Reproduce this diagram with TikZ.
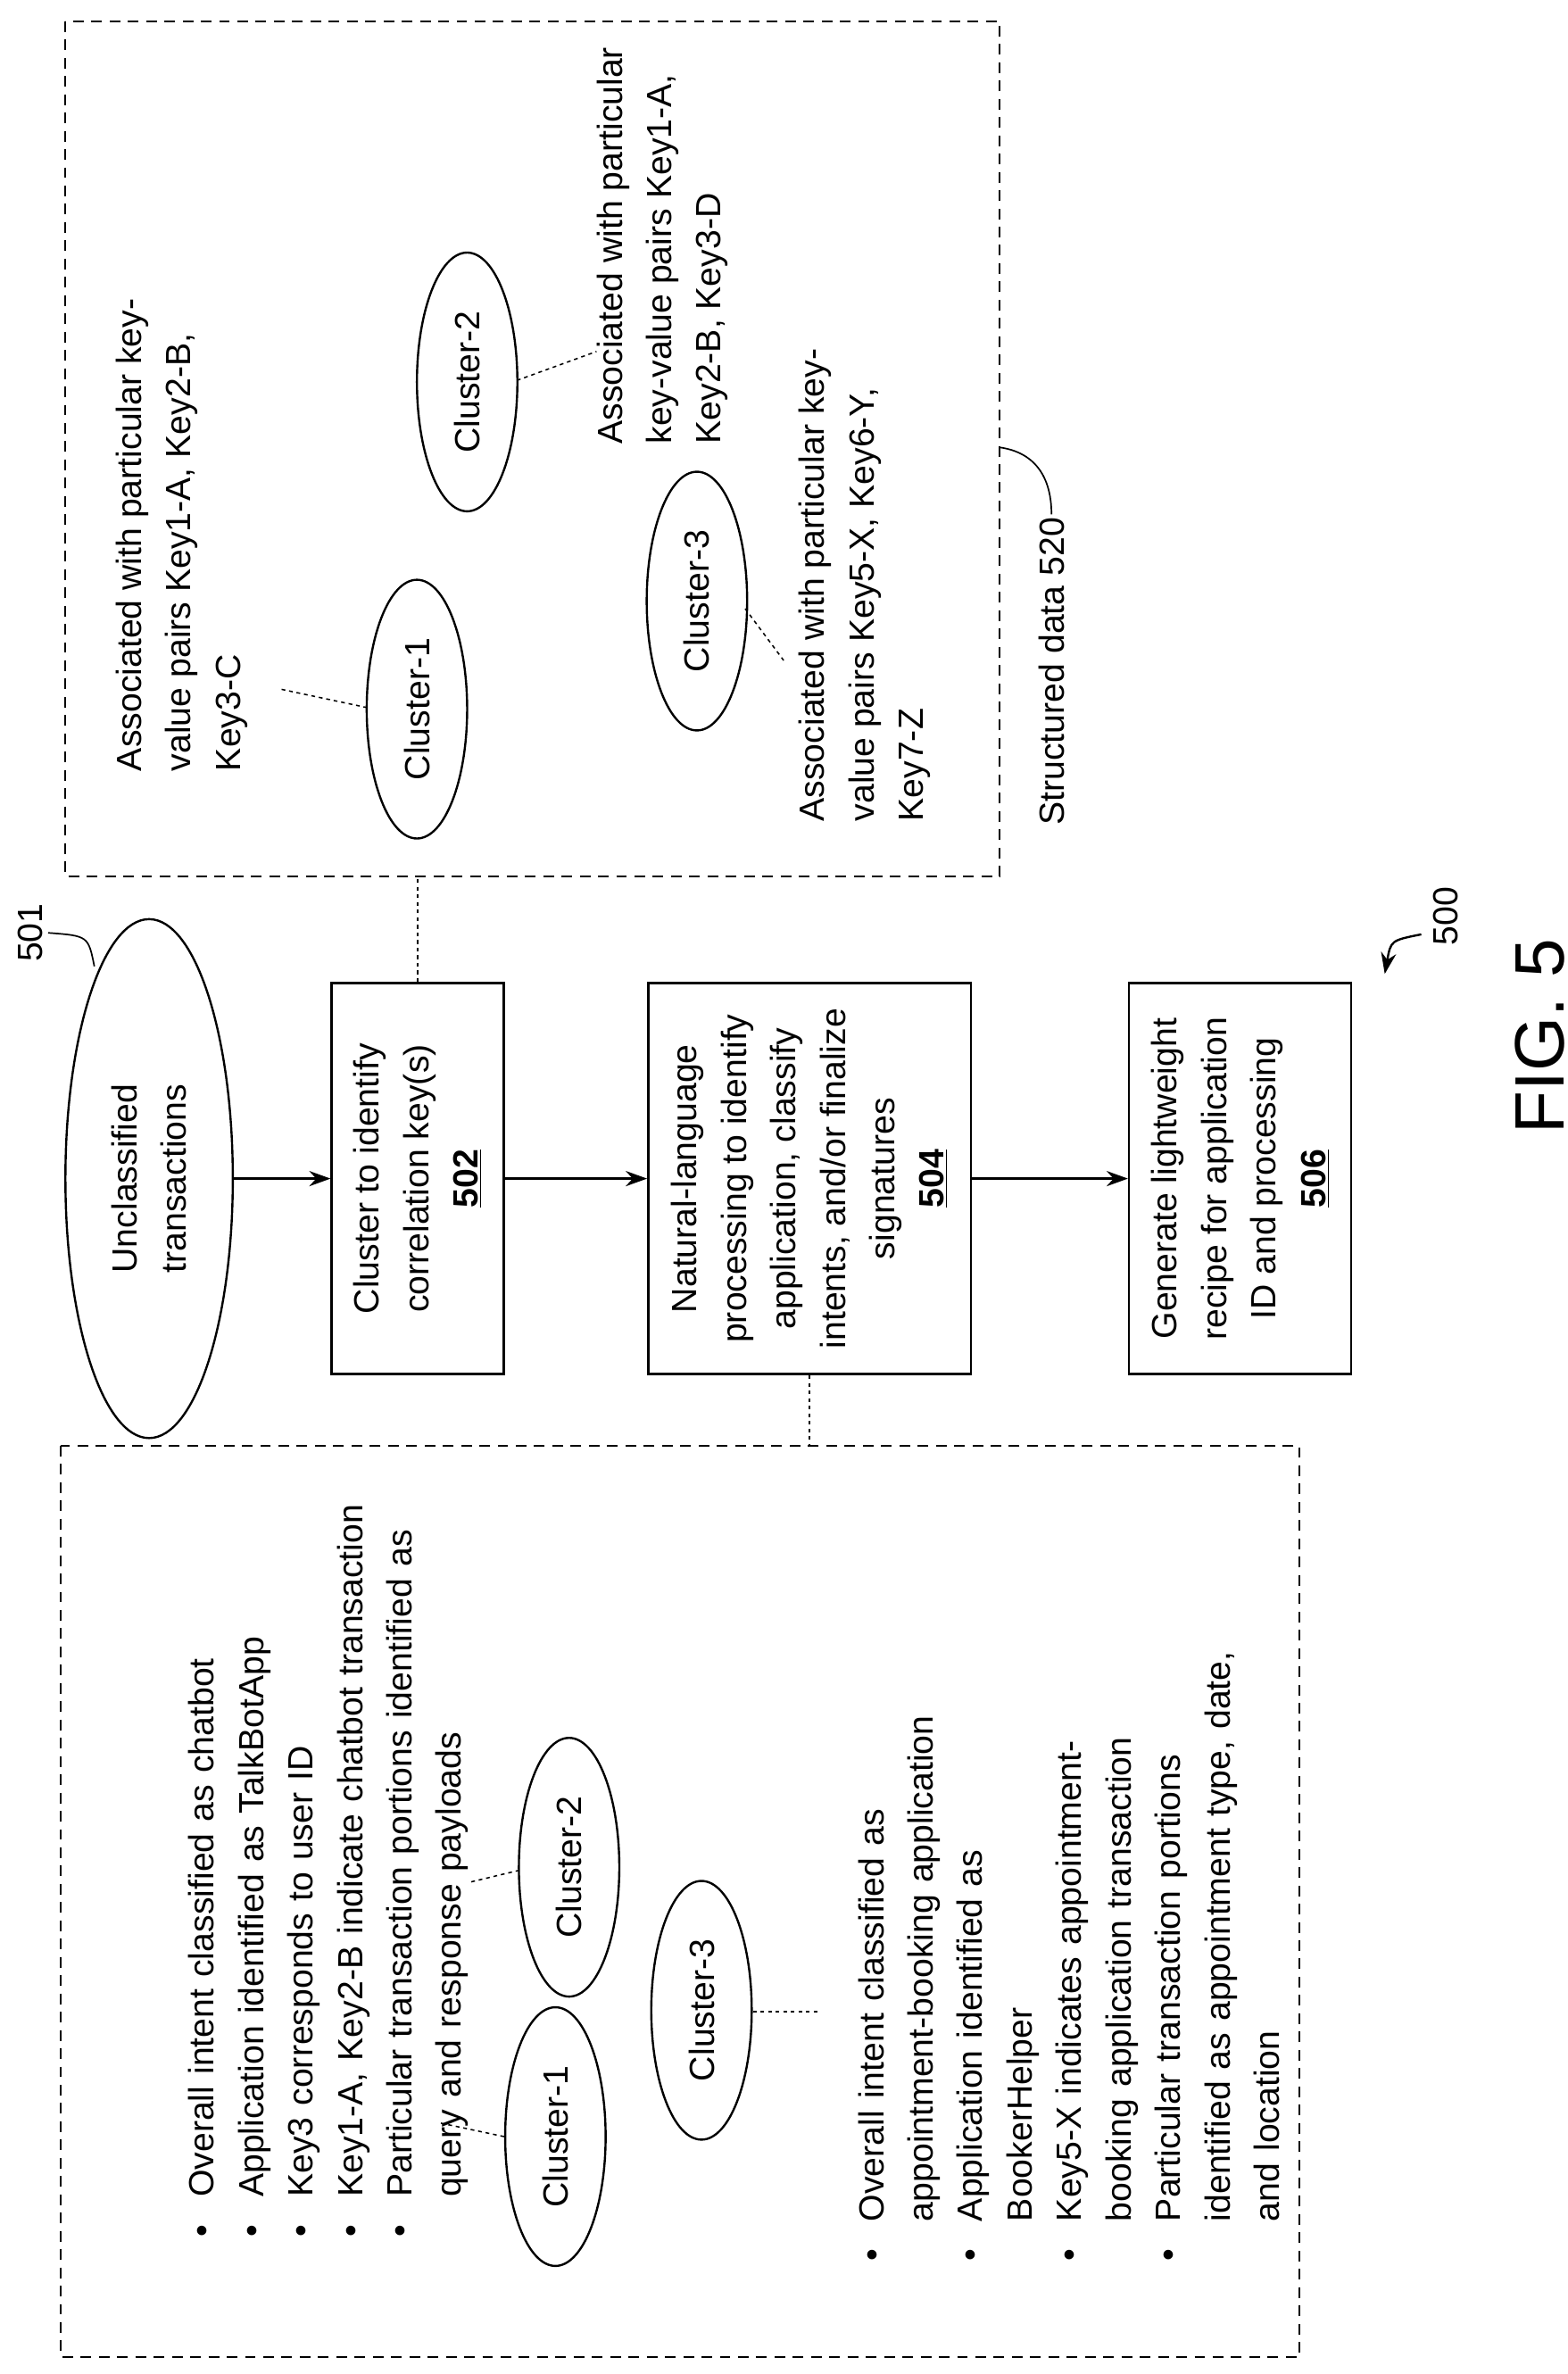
\documentclass[tikz,border=0pt]{standalone}
\usepackage{fontspec}
\setmainfont{Liberation Sans}
\usetikzlibrary{positioning,arrows.meta,shapes.geometric}
\tikzset{
  every node/.style={font=\fontsize{23}{32.5}\selectfont},
  stage/.style={draw,line width=1.5pt,minimum width=257pt,align=center,inner sep=4pt},
  cluster/.style={draw,ellipse,line width=1.4pt,minimum width=170pt,minimum height=66pt,inner sep=0pt},
  frame/.style={draw,line width=1.4pt,dash pattern=on 7pt off 5pt},
  leader/.style={line width=0.9pt,dash pattern=on 2.5pt off 2.5pt},
  note/.style={anchor=north west,align=left,inner sep=0pt},
  flow/.style={-{Stealth[length=14pt,width=10pt]},line width=1.6pt}
}
\newcommand{\itemlist}[1]{\begin{list}{\textbullet}{\setlength\leftmargin{44pt}\setlength\labelsep{18pt}\setlength\itemsep{0pt}\setlength\parsep{0pt}\setlength\topsep{0pt}}#1\end{list}}
\begin{document}
\begin{tikzpicture}[x=1pt,y=1pt,rotate=90,transform shape]
\useasboundingbox (0,0) rectangle (1560,1030);
% main flow
\node[draw,ellipse,line width=1.4pt,minimum width=341pt,minimum height=110pt,align=center,inner sep=0pt] (txn) at (785.5,932) {Unclassified\\transactions};
\node (lbl501) at (947,1010) {501};
\draw[line width=1pt] (925,968) .. controls (945,972) .. (lbl501.south);
\node[stage,minimum height=113pt] (s502) at (785.5,755.5) {Cluster to identify\\correlation key(s)\\\textbf{\underline{502}}};
\node[stage,minimum height=212pt] (s504) at (785.5,498) {Natural-language\\processing to identify\\application, classify\\intents, and/or finalize\\signatures\\\textbf{\underline{504}}};
\node[stage,minimum height=146pt] (s506) at (785.5,215) {Generate lightweight\\recipe for application\\ID and processing\\\textbf{\underline{506}}};
\draw[flow] (txn.south) -- (s502.north);
\draw[flow] (s502.south) -- (s504.north);
\draw[flow] (s504.south) -- (s506.north);
% structured data 520
\node[frame,minimum width=562pt,minimum height=614pt] (sd) at (1265,680) {};
\node[anchor=east,inner sep=2pt] (lbl520) at (1222,339) {Structured data 520};
\draw[line width=1pt] (1266,373) .. controls (1262,345) and (1240,339) .. (lbl520.east);
\draw[leader] (s502.east) -- (s502.east -| sd.west);
\node[cluster] (t1) at (1094,756) {Cluster-1};
\node[cluster] (t2) at (1309,723) {Cluster-2};
\node[cluster] (t3) at (1165,572) {Cluster-3};
\node[note] (n1) at (1053,954) {Associated with particular key-\\value pairs Key1-A, Key2-B,\\Key3-C};
\node[note] (n2) at (1268,638) {Associated with particular\\key-value pairs Key1-A,\\Key2-B, Key3-D};
\node[note] (n3) at (1020,505) {Associated with particular key-\\value pairs Key5-X, Key6-Y,\\Key7-Z};
\draw[leader] (t1.north) ++(1,-1) -- (1107,845);
\draw[leader] (t2.south) ++(1,1) -- (1329,638);
\draw[leader] (t3.south) ++(-5,2) -- (1126,515);
% bottom frame
\node[frame,minimum width=599pt,minimum height=814pt] (bf) at (310.5,583) {};
\draw[leader] (s504.west) -- (s504.west -| bf.east);
\node[anchor=north west,inner sep=0pt,text width=560pt] (l1) at (72,922) {\itemlist{
\item Overall intent classified as chatbot
\item Application identified as TalkBotApp
\item Key3 corresponds to user ID
\item Key1-A, Key2-B indicate chatbot transaction
\item Particular transaction portions identified as\newline query and response payloads}};
\node[cluster] (b1) at (156,665) {Cluster-1};
\node[cluster] (b2) at (333,656) {Cluster-2};
\node[cluster] (b3) at (239,569) {Cluster-3};
\draw[leader] (b2.north) ++(-2,-1) -- (323,722);
\draw[leader] (b1.north) -- (165,741);
\draw[leader] (b3.south) ++(-1,0) -- (238,493);
\node[anchor=north west,inner sep=0pt,text width=480pt] (l2) at (56,482) {\itemlist{
\item Overall intent classified as\newline appointment-booking application
\item Application identified as\newline BookerHelper
\item Key5-X indicates appointment-\newline booking application transaction
\item Particular transaction portions\newline identified as appointment type, date,\newline and location}};
% figure label
\node (lbl500) at (958,80) {500};
\draw[-{Stealth[length=14pt,width=10pt]},line width=1.4pt] (946,96) .. controls (942,116) .. (920,120);
\node[font=\fontsize{46}{50}\selectfont] (fig) at (879,18) {FIG. 5};
\end{tikzpicture}
\end{document}
